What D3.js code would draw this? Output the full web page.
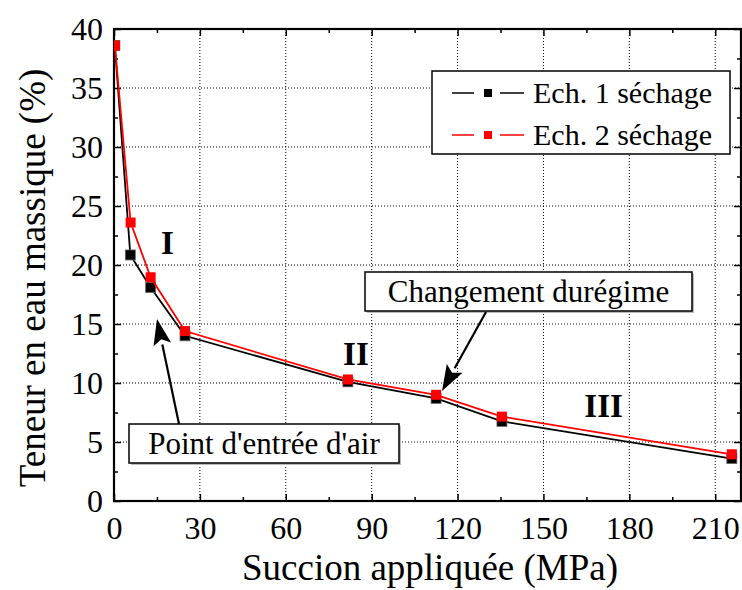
<!DOCTYPE html>
<html><head><meta charset="utf-8">
<script src="https://cdn.jsdelivr.net/npm/d3@7"></script>
<style>body{margin:0;background:#fff}svg{display:block}text{font-family:"Liberation Serif","DejaVu Serif",serif;fill:#000}</style>
</head><body>
<script>
const succion1 = [0.3, 5.7, 12.8, 24.8, 81.7, 112.5, 135.5, 215.8];
const teneur1  = [38.6, 20.85, 18.1, 14.0, 10.1, 8.7, 6.75, 3.6];
const succion2 = [0.3, 5.8, 12.8, 24.8, 81.7, 112.5, 135.5, 215.8];
const teneur2  = [38.6, 23.6, 18.96, 14.4, 10.3, 9.0, 7.15, 3.96];
const seriesNames = ["Ech. 1 séchage", "Ech. 2 séchage"];
const xTicks = [0, 30, 60, 90, 120, 150, 180, 210];
const yTicks = [0, 5, 10, 15, 20, 25, 30, 35, 40];
const regionLabels = ["I", "II", "III"];
const regionPos = [[18.7, 20.95], [84.5, 11.5], [171, 7.1]];
const annotations = ["Changement durégime", "Point d'entrée d'air"];

const W = 742, H = 590;
const L = 114, R = 741, T = 29, B = 501;
const svg = d3.select("body").append("svg").attr("width", W).attr("height", H);
const x = d3.scaleLinear().domain([0, 219]).range([L, R]);
const y = d3.scaleLinear().domain([0, 40]).range([B, T]);

// grid
const g = svg.append("g");
g.selectAll(".gx").data(xTicks.filter(d => d > 0)).enter().append("line")
  .attr("x1", d => x(d)).attr("x2", d => x(d)).attr("y1", T).attr("y2", B)
  .attr("stroke", "#000").attr("stroke-width", 1).attr("stroke-dasharray", "1,2");
g.selectAll(".gy").data(yTicks.filter(d => d > 0 && d < 40)).enter().append("line")
  .attr("y1", d => y(d)).attr("y2", d => y(d)).attr("x1", L).attr("x2", R)
  .attr("stroke", "#000").attr("stroke-width", 1).attr("stroke-dasharray", "1,2");

// axes (ticks inward, mirrored)
const xMinor = d3.range(15, 219, 30);
const yMinor = d3.range(2.5, 40, 5);
const styleTicks = s => { s.select(".domain").remove(); s.selectAll("line").attr("stroke", "#000").attr("stroke-width", 1.5); };
const bottom = svg.append("g").attr("transform", `translate(0,${B})`)
  .call(d3.axisBottom(x).tickValues(xTicks).tickSizeInner(-7).tickSizeOuter(0).tickFormat(d3.format("d")))
  .call(styleTicks);
bottom.selectAll("text").attr("font-size", 32).attr("dy", null).attr("y", 38);
svg.append("g").attr("transform", `translate(0,${B})`)
  .call(d3.axisBottom(x).tickValues(xMinor).tickSizeInner(-4).tickSizeOuter(0).tickFormat("")).call(styleTicks);
svg.append("g").attr("transform", `translate(0,${T})`)
  .call(d3.axisTop(x).tickValues(xTicks).tickSizeInner(-7).tickSizeOuter(0).tickFormat("")).call(styleTicks);
svg.append("g").attr("transform", `translate(0,${T})`)
  .call(d3.axisTop(x).tickValues(xMinor).tickSizeInner(-4).tickSizeOuter(0).tickFormat("")).call(styleTicks);

const left = svg.append("g").attr("transform", `translate(${L},0)`)
  .call(d3.axisLeft(y).tickValues(yTicks).tickSizeInner(-7).tickSizeOuter(0).tickFormat(d3.format("d")))
  .call(styleTicks);
left.selectAll("text").attr("font-size", 32).attr("x", -11).attr("dy", "0.34em");
svg.append("g").attr("transform", `translate(${L},0)`)
  .call(d3.axisLeft(y).tickValues(yMinor).tickSizeInner(-4).tickSizeOuter(0).tickFormat("")).call(styleTicks);
svg.append("g").attr("transform", `translate(${R},0)`)
  .call(d3.axisRight(y).tickValues(yTicks).tickSizeInner(-7).tickSizeOuter(0).tickFormat("")).call(styleTicks);
svg.append("g").attr("transform", `translate(${R},0)`)
  .call(d3.axisRight(y).tickValues(yMinor).tickSizeInner(-4).tickSizeOuter(0).tickFormat("")).call(styleTicks);

// frame
svg.append("rect").attr("x", L).attr("y", T).attr("width", R - L).attr("height", B - T)
  .attr("fill", "none").attr("stroke", "#000").attr("stroke-width", 2.2);

// axis titles
svg.append("text").attr("x", (240 + 620) / 2).attr("y", 580).attr("text-anchor", "middle")
  .attr("font-size", 37).text("Succion appliquée (MPa)");
svg.append("text").attr("transform", "translate(45,278) rotate(-90)").attr("text-anchor", "middle")
  .attr("font-size", 37).text("Teneur en eau massique (%)");

// series
const line = d3.line().x(d => x(d[0])).y(d => y(d[1]));
const data1 = succion1.map((s, i) => [s, teneur1[i]]);
const data2 = succion2.map((s, i) => [s, teneur2[i]]);
svg.append("clipPath").attr("id", "clip").append("rect")
  .attr("x", L).attr("y", T - 10).attr("width", R - L + 10).attr("height", B - T + 10);
const plot = svg.append("g").attr("clip-path", "url(#clip)");
plot.append("path").datum(data1).attr("d", line).attr("fill", "none").attr("stroke", "#000").attr("stroke-width", 1.8);
plot.selectAll(".m1").data(data1).enter().append("rect")
  .attr("x", d => x(d[0]) - 5).attr("y", d => y(d[1]) - 5).attr("width", 10).attr("height", 10)
  .attr("fill", "#000").attr("stroke", "#666").attr("stroke-width", 0.8);
plot.append("path").datum(data2).attr("d", line).attr("fill", "none").attr("stroke", "#f00").attr("stroke-width", 1.8);
plot.selectAll(".m2").data(data2).enter().append("rect")
  .attr("x", d => x(d[0]) - 5).attr("y", d => y(d[1]) - 5).attr("width", 10).attr("height", 10)
  .attr("fill", "#f00");

// region labels
svg.selectAll(".reg").data(regionLabels).enter().append("text")
  .attr("x", (d, i) => x(regionPos[i][0])).attr("y", (d, i) => y(regionPos[i][1]))
  .attr("text-anchor", "middle").attr("font-size", 33).attr("font-weight", "bold").text(d => d);

// annotation boxes
function box(x0, y0, x1, y1, label) {
  svg.append("rect").attr("x", x0 + 2).attr("y", y0 + 2).attr("width", x1 - x0).attr("height", y1 - y0).attr("fill", "#bbb");
  svg.append("rect").attr("x", x0).attr("y", y0).attr("width", x1 - x0).attr("height", y1 - y0)
    .attr("fill", "#fff").attr("stroke", "#000").attr("stroke-width", 1.5);
  svg.append("text").attr("x", (x0 + x1) / 2).attr("y", (y0 + y1) / 2 + 10).attr("text-anchor", "middle")
    .attr("font-size", 31).text(label);
}
function arrow(x0, y0, x1, y1) {
  const a = Math.atan2(y1 - y0, x1 - x0), len = 26, w = 9;
  const bx = x1 - len * Math.cos(a), by = y1 - len * Math.sin(a);
  svg.append("line").attr("x1", x0).attr("y1", y0).attr("x2", bx).attr("y2", by).attr("stroke", "#000").attr("stroke-width", 2.2);
  const px = -Math.sin(a) * w, py = Math.cos(a) * w;
  svg.append("path").attr("d", `M${x1},${y1} L${bx + px},${by + py} L${bx + 0.2 * Math.cos(a) * len},${by + 0.2 * Math.sin(a) * len} L${bx - px},${by - py} Z`).attr("fill", "#000");
}
box(365, 272, 692, 311, annotations[0]);
arrow(486, 312, 442, 391);
box(129, 424, 399, 463, annotations[1]);
arrow(179, 424, 157, 319);

// legend
svg.append("rect").attr("x", 432).attr("y", 71).attr("width", 298).attr("height", 83)
  .attr("fill", "#fff").attr("stroke", "#000").attr("stroke-width", 1.5);
const colors = ["#000", "#f00"];
seriesNames.forEach((n, i) => {
  const cy = 93 + i * 42;
  svg.append("line").attr("x1", 452).attr("x2", 474).attr("y1", cy).attr("y2", cy).attr("stroke", colors[i]).attr("stroke-width", 1.5);
  svg.append("line").attr("x1", 500).attr("x2", 524).attr("y1", cy).attr("y2", cy).attr("stroke", colors[i]).attr("stroke-width", 1.5);
  svg.append("rect").attr("x", 484).attr("y", cy - 4).attr("width", 8).attr("height", 8).attr("fill", colors[i]);
  svg.append("text").attr("x", 533).attr("y", cy + 10).attr("font-size", 30).text(n);
});
</script>
</body></html>
